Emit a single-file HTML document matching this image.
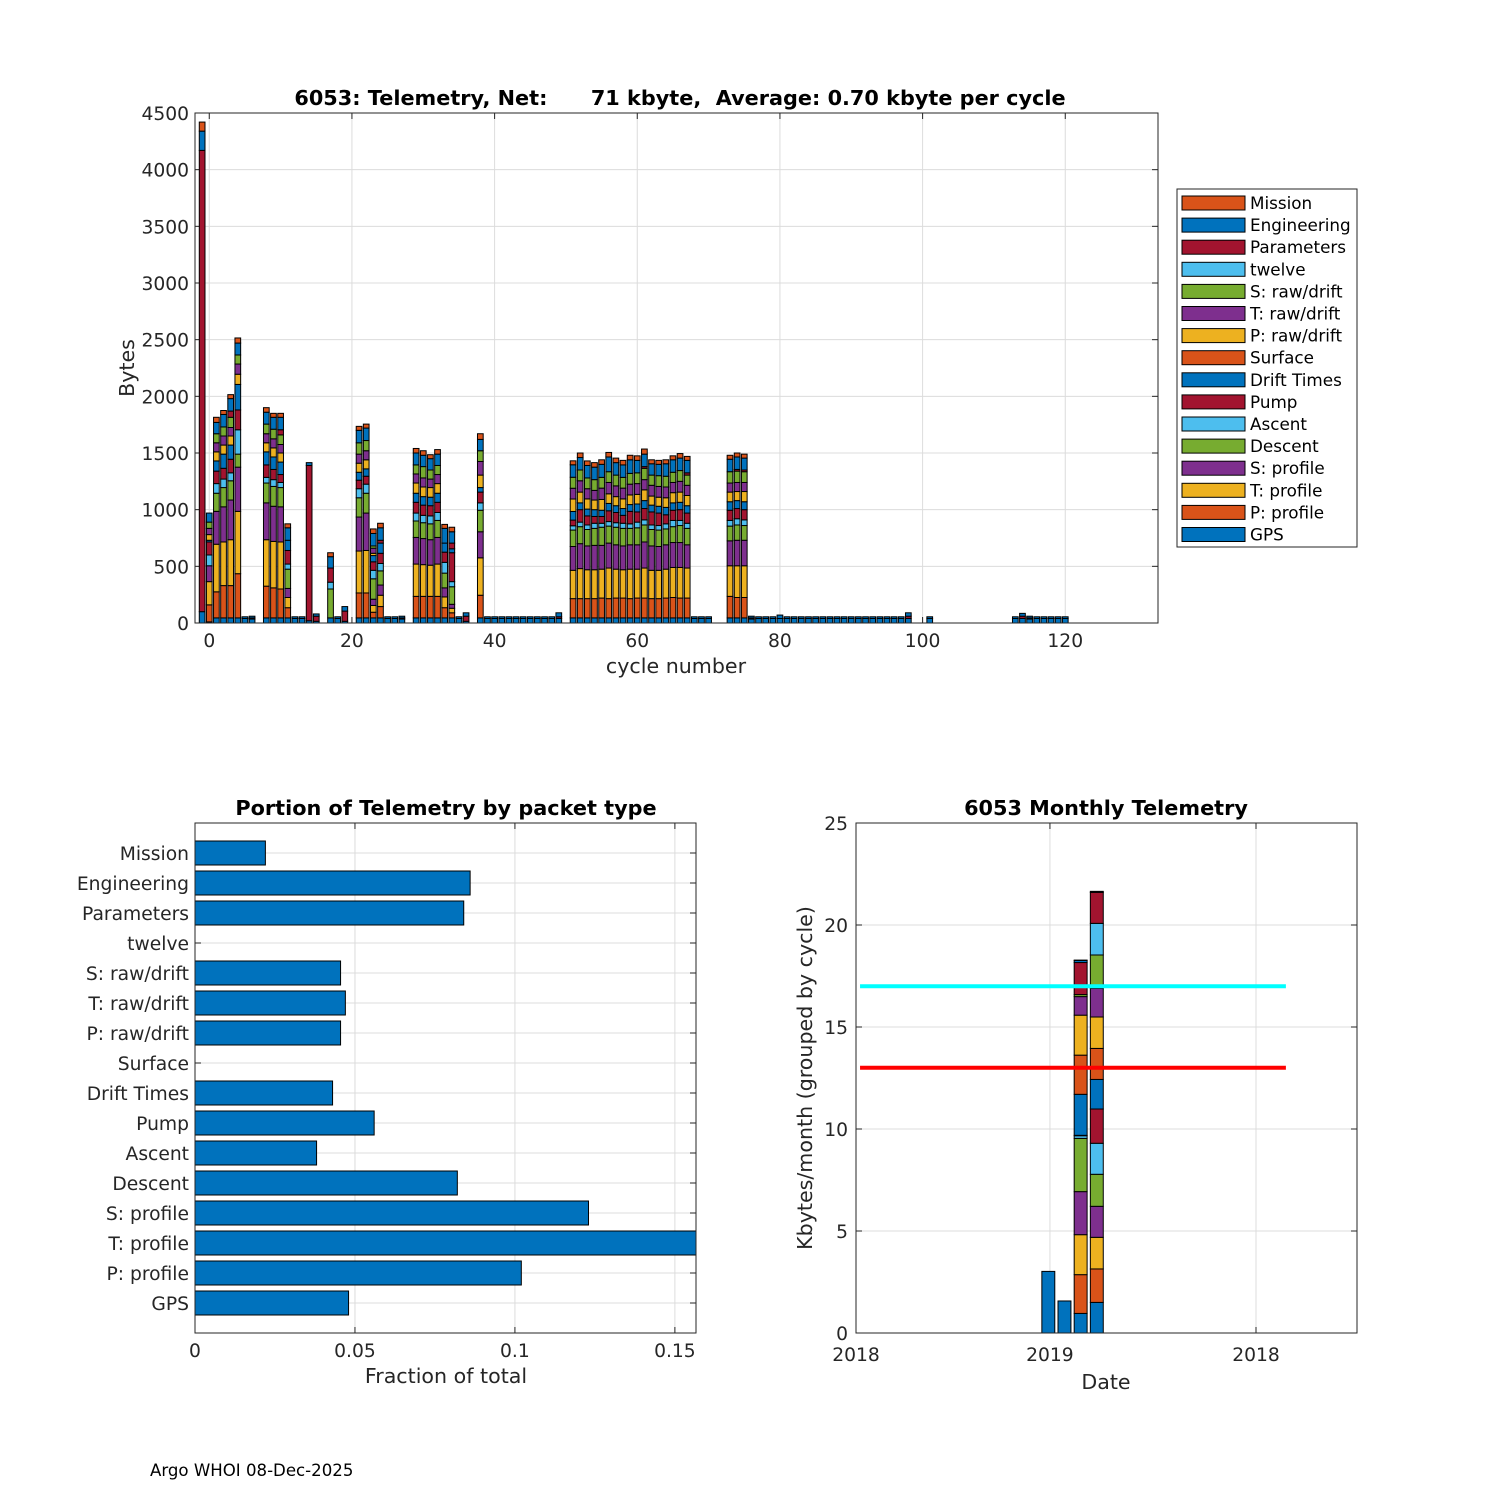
<!DOCTYPE html>
<html><head><meta charset="utf-8"><style>
html,body{margin:0;padding:0;background:#fff;}
svg{display:block;font-family:"DejaVu Sans","Liberation Sans",sans-serif;}
</style></head><body>
<svg id="fig" width="1500" height="1500" viewBox="0 0 1500 1500" xmlns="http://www.w3.org/2000/svg">
<rect x="0" y="0" width="1500" height="1500" fill="#fff"/>
<text x="680" y="105" text-anchor="middle" font-size="20.8" font-weight="bold" fill="#000" style="white-space:pre">6053: Telemetry, Net:      71 kbyte,  Average: 0.70 kbyte per cycle</text>
<text x="676" y="673" text-anchor="middle" font-size="20.6" fill="#262626">cycle number</text>
<text transform="translate(134,368) rotate(-90)" text-anchor="middle" font-size="20.6" fill="#262626">Bytes</text>
<text x="446" y="815" text-anchor="middle" font-size="20.8" font-weight="bold" fill="#000">Portion of Telemetry by packet type</text>
<text x="446" y="1383" text-anchor="middle" font-size="20.6" fill="#262626">Fraction of total</text>
<text x="1106" y="815" text-anchor="middle" font-size="20.8" font-weight="bold" fill="#000">6053 Monthly Telemetry</text>
<text x="1106" y="1389" text-anchor="middle" font-size="20.6" fill="#262626">Date</text>
<text transform="translate(812,1078) rotate(-90)" text-anchor="middle" font-size="20.6" fill="#262626">Kbytes/month (grouped by cycle)</text>
<text x="150" y="1476" font-size="16.6" fill="#000">Argo WHOI 08-Dec-2025</text>
</svg>
<script>
// ---------- data ----------
const packetNames = ["GPS","P: profile","T: profile","S: profile","Descent","Ascent","Pump","Drift Times","Surface","P: raw/drift","T: raw/drift","S: raw/drift","twelve","Parameters","Engineering","Mission"];
const palette = ["#0072BD","#D95319","#EDB120","#7E2F8E","#77AC30","#4DBEEE","#A2142F"];
const fullCycles = [-1,0,1,2,3,4,8,9,10,11,14,15,17,19,21,22,23,24,29,30,31,32,33,34,36,38,49,51,52,53,54,55,56,57,58,59,60,61,62,63,64,65,66,67,73,74,75];
const fullSegs = [
[100,0,0,0,0,0,0,0,0,0,0,0,0,4070,170,80],
[10,150,205,140,0,95,115,15,0,50,55,55,0,0,80,0],
[45,230,420,290,160,85,110,90,0,80,80,80,0,0,100,45],
[45,285,385,310,170,75,95,125,0,80,80,80,0,0,110,35],
[45,285,405,350,170,70,120,125,0,80,75,90,0,55,110,35],
[45,390,550,390,115,215,175,225,0,90,90,80,0,0,105,45],
[45,280,410,325,175,50,110,115,0,80,80,85,0,0,105,40],
[45,265,410,310,175,60,90,110,0,80,80,85,0,0,105,35],
[45,255,415,310,170,45,70,110,0,80,75,85,0,45,110,35],
[45,90,90,80,170,45,120,90,0,0,0,0,0,0,110,35],
[20,0,0,0,0,0,0,0,0,0,0,0,0,1370,25,0],
[15,0,0,0,0,0,45,0,0,0,0,0,0,0,20,0],
[45,0,0,0,255,60,125,100,0,0,0,0,0,0,0,35],
[15,0,0,0,0,0,90,0,0,0,0,0,0,0,40,0],
[45,220,370,300,170,80,75,70,0,80,80,100,0,0,110,35],
[45,220,375,330,175,80,70,65,0,80,80,90,0,0,110,35],
[45,50,60,55,180,75,75,55,0,20,45,20,0,0,110,40],
[45,100,100,90,125,65,90,90,0,0,0,0,0,25,110,40],
[45,190,285,235,145,70,95,80,0,90,80,80,0,0,105,40],
[45,190,280,230,140,65,90,75,0,85,80,100,0,0,100,40],
[45,190,275,225,140,70,90,75,0,85,75,80,0,0,100,35],
[45,190,285,235,150,70,90,80,0,85,80,80,0,0,100,40],
[45,90,95,80,130,95,90,80,0,0,0,0,0,0,130,35],
[45,45,40,35,155,45,255,35,0,0,0,0,0,50,100,40],
[15,0,0,0,0,0,45,0,0,0,0,0,0,0,30,0],
[45,200,330,230,190,65,95,40,0,110,120,95,0,0,100,50],
[40,0,0,0,0,0,15,0,0,0,0,0,0,0,35,0],
[45,170,250,210,145,38,50,76,0,110,95,97,0,0,110,35],
[45,170,265,220,150,40,110,60,0,95,100,95,0,0,110,40],
[45,170,255,210,145,40,80,60,0,90,90,95,0,0,110,40],
[45,170,255,215,150,45,60,60,0,85,85,95,0,0,110,40],
[45,175,255,210,160,35,60,55,0,95,100,95,0,0,115,40],
[45,170,270,220,150,40,95,65,0,85,100,95,0,0,130,40],
[45,175,255,215,155,40,90,60,0,80,95,95,0,0,110,40],
[45,175,250,210,155,45,70,60,0,85,95,95,0,0,110,40],
[45,170,260,215,145,40,110,60,0,85,95,95,0,0,120,40],
[45,175,255,215,150,50,90,70,0,85,95,95,0,0,110,40],
[45,175,265,230,150,45,100,70,0,95,90,100,0,15,110,45],
[45,170,250,215,145,40,115,60,0,80,95,90,0,0,100,35],
[45,170,250,210,145,40,110,60,0,80,95,95,0,0,100,35],
[45,175,255,215,140,45,80,65,0,85,95,95,0,0,110,35],
[45,180,265,220,140,55,90,65,0,90,90,90,0,0,110,35],
[45,175,270,220,150,45,95,65,0,90,95,95,0,0,110,40],
[45,175,265,205,145,45,90,65,0,90,90,90,0,20,110,35],
[45,190,270,220,130,50,90,75,0,85,80,100,0,0,110,35],
[45,180,280,225,135,55,90,70,0,80,80,100,0,15,110,35],
[45,180,280,225,130,50,90,70,0,90,80,95,0,15,105,35]
];
const smallCycles = [5,6,12,13,18,25,26,27,35,39,40,41,42,43,44,45,46,47,48,68,69,70,76,77,78,79,80,81,82,83,84,85,86,87,88,89,90,91,92,93,94,95,96,97,98,101,113,114,115,116,117,118,119,120];
const smallGps =  [40,35,40,40,40,40,40,35,40,40,40,40,40,40,40,40,40,40,40,40,40,40,35,40,40,40,40,40,40,40,40,40,40,40,40,40,40,40,40,40,40,40,40,40,40,40,40,40,35,40,40,40,40,40];
const smallPump = [0,10,0,0,0,0,0,10,0,0,0,0,0,0,0,0,0,0,0,0,0,0,10,0,0,0,0,0,0,0,0,0,0,0,0,0,0,0,0,0,0,0,0,0,20,0,0,20,10,0,0,0,0,0];
const smallEng =  [15,15,15,15,15,15,15,15,15,15,15,15,15,15,15,15,15,15,15,15,15,15,15,15,15,15,30,15,15,15,15,15,15,15,15,15,15,15,15,15,15,15,15,15,30,15,15,25,15,15,15,15,15,15];
const topYTicks = [0,500,1000,1500,2000,2500,3000,3500,4000,4500];
const topXTicks = [0,20,40,60,80,100,120];

const portionLabels = ["GPS","P: profile","T: profile","S: profile","Descent","Ascent","Pump","Drift Times","Surface","P: raw/drift","T: raw/drift","S: raw/drift","twelve","Parameters","Engineering","Mission"];
const portionValues = [0.048,0.102,0.160,0.123,0.082,0.038,0.056,0.043,0,0.0455,0.047,0.0455,0,0.084,0.086,0.022];
const portionXTicks = [0,0.05,0.1,0.15];
const portionXTickLabels = ["0","0.05","0.1","0.15"];

const monthPos = [11.9,12.9,13.9,14.9];
const monthSegs = [
[3.02,0,0,0,0,0,0,0,0,0,0,0,0,0,0,0],
[1.57,0,0,0,0,0,0,0,0,0,0,0,0,0,0,0],
[0.96,1.90,1.96,2.11,2.61,0.13,0.02,2.01,1.92,1.96,0.91,0.10,0,1.57,0.10,0.02],
[1.50,1.64,1.55,1.52,1.57,1.52,1.68,1.45,1.52,1.54,1.41,1.63,1.55,1.52,0.05,0]
];
const monthYTicks = [0,5,10,15,20,25];
const monthXTicks = [0,12,24.75];
const monthXTickLabels = ["2018","2019","2018"];
const cyanLevel = 17, redLevel = 13;
const refLineStart = 0.25, refLineEnd = 26.6;

// ---------- helpers ----------
const NS = "http://www.w3.org/2000/svg";
const svg = document.getElementById("fig");
function mk(tag, attrs, parent){ const e=document.createElementNS(NS,tag); for(const k in attrs) e.setAttribute(k,attrs[k]); (parent||svg).appendChild(e); return e; }
function colorOf(i){ return palette[i%7]; }
const TICKFS = 18.7;

// ---------- top chart ----------
const T = {x0:195,x1:1158,y0:113,y1:623,xmin:-2,xmax:133,ymax:4500};
const sx = c => T.x0 + (c - T.xmin) * (T.x1-T.x0)/(T.xmax-T.xmin);
const sy = v => T.y1 - v*(T.y1-T.y0)/T.ymax;
const gTop = mk("g",{});


topYTicks.forEach(v=>{
  const l=mk("line",{x1:T.x0,x2:T.x1,y1:sy(v),y2:sy(v),stroke:"#dcdcdc","stroke-width":1},gTop);
  
  
  const t=mk("text",{x:T.x0-6,y:sy(v)+7,"text-anchor":"end","font-size":TICKFS,fill:"#262626"},gTop);
  t.textContent=v;
  
  
  mk("line",{x1:T.x0,x2:T.x0+6,y1:sy(v),y2:sy(v),stroke:"#262626"},gTop);
  mk("line",{x1:T.x1,x2:T.x1-6,y1:sy(v),y2:sy(v),stroke:"#262626"},gTop);
});
topXTicks.forEach(v=>{
  const l=mk("line",{x1:sx(v),x2:sx(v),y1:T.y0,y2:T.y1,stroke:"#dcdcdc","stroke-width":1},gTop);
  
  
  const t=mk("text",{x:sx(v),y:T.y1+24,"text-anchor":"middle","font-size":TICKFS,fill:"#262626"},gTop);
  t.textContent=v;
  
  
  mk("line",{x1:sx(v),x2:sx(v),y1:T.y1,y2:T.y1-6,stroke:"#262626"},gTop);
  mk("line",{x1:sx(v),x2:sx(v),y1:T.y0,y2:T.y0+6,stroke:"#262626"},gTop);
});
const bw = 0.8*(T.x1-T.x0)/(T.xmax-T.xmin);
function stackBar(cyc, vals){
  let acc=0;
  vals.forEach((v,i)=>{
    if(v<=0) return;
    const r=mk("rect",{x:sx(cyc)-bw/2,y:sy(acc+v),width:bw,height:sy(acc)-sy(acc+v),fill:colorOf(i),stroke:"#000","stroke-width":1},gTop);
    
    
    acc+=v;
  });
}
fullCycles.forEach((c,k)=>stackBar(c, fullSegs[k]));
smallCycles.forEach((c,k)=>{
  const v=new Array(16).fill(0);
  v[0]=smallGps[k]; v[6]=smallPump[k]; v[14]=smallEng[k];
  stackBar(c,v);
});
const fr=mk("rect",{x:T.x0,y:T.y0,width:T.x1-T.x0,height:T.y1-T.y0,fill:"none",stroke:"#262626","stroke-width":1},gTop);



// legend
const gLeg = mk("g",{});


mk("rect",{x:1177,y:189,width:180,height:358,fill:"#fff",stroke:"#262626","stroke-width":1},gLeg);
for(let j=0;j<16;j++){
  const i=15-j; const y=203+j*22.1;
  const s=mk("rect",{x:1182,y:y-7,width:63,height:14,fill:colorOf(i),stroke:"#000","stroke-width":1},gLeg);
  
  
  const t=mk("text",{x:1250,y:y+6,"font-size":16.8,fill:"#000"},gLeg);
  t.textContent=packetNames[i];
  
  
}

// ---------- portion chart ----------
const P={x0:195,x1:696,y0:823,y1:1333,xmax:0.1566,ymax:17};
const px = f => P.x0 + f*(P.x1-P.x0)/P.xmax;
const py = i => P.y1 - i*(P.y1-P.y0)/P.ymax;
const gP=mk("g",{});


portionXTicks.forEach((v,k)=>{
  const l=mk("line",{x1:px(v),x2:px(v),y1:P.y0,y2:P.y1,stroke:"#dcdcdc"},gP);
  
  
  mk("line",{x1:px(v),x2:px(v),y1:P.y1,y2:P.y1-6,stroke:"#262626"},gP);
  mk("line",{x1:px(v),x2:px(v),y1:P.y0,y2:P.y0+6,stroke:"#262626"},gP);
  const t=mk("text",{x:px(v),y:P.y1+24,"text-anchor":"middle","font-size":TICKFS,fill:"#262626"},gP);
  t.textContent=portionXTickLabels[k];
  
  
});
portionLabels.forEach((lab,k)=>{
  const i=k+1;
  const l=mk("line",{x1:P.x0,x2:P.x1,y1:py(i),y2:py(i),stroke:"#dcdcdc"},gP);
  
  
  mk("line",{x1:P.x0,x2:P.x0+6,y1:py(i),y2:py(i),stroke:"#262626"},gP);
  mk("line",{x1:P.x1,x2:P.x1-6,y1:py(i),y2:py(i),stroke:"#262626"},gP);
  const t=mk("text",{x:P.x0-6,y:py(i)+7,"text-anchor":"end","font-size":TICKFS,fill:"#262626"},gP);
  t.textContent=lab;
  
  
  const v=Math.min(portionValues[k],P.xmax);
  if(v>0){
    const h=0.8*(P.y1-P.y0)/P.ymax;
    const r=mk("rect",{x:P.x0,y:py(i)-h/2,width:px(v)-P.x0,height:h,fill:"#0072BD",stroke:"#000","stroke-width":1},gP);
    
    
  }
});
const pf=mk("rect",{x:P.x0,y:P.y0,width:P.x1-P.x0,height:P.y1-P.y0,fill:"none",stroke:"#262626"},gP);



// ---------- monthly chart ----------
const M={x0:856,x1:1357,y0:823,y1:1333,xmax:31,ymax:25};
const mx = m => M.x0 + m*(M.x1-M.x0)/M.xmax;
const my = v => M.y1 - v*(M.y1-M.y0)/M.ymax;
const gM=mk("g",{});


monthYTicks.forEach(v=>{
  const l=mk("line",{x1:M.x0,x2:M.x1,y1:my(v),y2:my(v),stroke:"#dcdcdc"},gM);
  
  
  mk("line",{x1:M.x0,x2:M.x0+6,y1:my(v),y2:my(v),stroke:"#262626"},gM);
  mk("line",{x1:M.x1,x2:M.x1-6,y1:my(v),y2:my(v),stroke:"#262626"},gM);
  const t=mk("text",{x:M.x0-8,y:my(v)+7,"text-anchor":"end","font-size":TICKFS,fill:"#262626"},gM);
  t.textContent=v;
  
  
});
monthXTicks.forEach((v,k)=>{
  const l=mk("line",{x1:mx(v),x2:mx(v),y1:M.y0,y2:M.y1,stroke:"#dcdcdc"},gM);
  
  
  mk("line",{x1:mx(v),x2:mx(v),y1:M.y1,y2:M.y1-6,stroke:"#262626"},gM);
  mk("line",{x1:mx(v),x2:mx(v),y1:M.y0,y2:M.y0+6,stroke:"#262626"},gM);
  const t=mk("text",{x:mx(v),y:M.y1+28,"text-anchor":"middle","font-size":TICKFS,fill:"#262626"},gM);
  t.textContent=monthXTickLabels[k];
  
  
});
const mbw=0.8*(M.x1-M.x0)/M.xmax;
monthPos.forEach((m,k)=>{
  let acc=0;
  monthSegs[k].forEach((v,i)=>{
    if(v<=0) return;
    const r=mk("rect",{x:mx(m)-mbw/2,y:my(acc+v),width:mbw,height:my(acc)-my(acc+v),fill:colorOf(i),stroke:"#000","stroke-width":1},gM);
    
    
    acc+=v;
  });
});
const cl=mk("line",{x1:mx(refLineStart),x2:mx(refLineEnd),y1:my(cyanLevel),y2:my(cyanLevel),stroke:"#00FFFF","stroke-width":4},gM);


const rl=mk("line",{x1:mx(refLineStart),x2:mx(refLineEnd),y1:my(redLevel),y2:my(redLevel),stroke:"#FF0000","stroke-width":4},gM);


const mf=mk("rect",{x:M.x0,y:M.y0,width:M.x1-M.x0,height:M.y1-M.y0,fill:"none",stroke:"#262626"},gM);


</script>
</body></html>
